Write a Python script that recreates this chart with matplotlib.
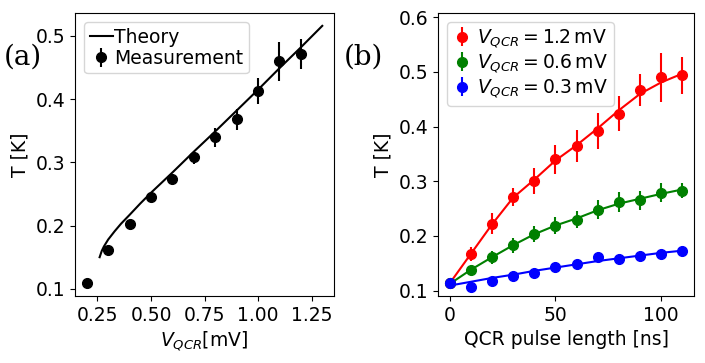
import numpy as np
import matplotlib
matplotlib.use("Agg")
import matplotlib.pyplot as plt

plt.rcParams['font.size'] = 13.5

# panel (a): temperature vs QCR voltage
v_meas = [0.2, 0.3, 0.4, 0.5, 0.6, 0.7, 0.8, 0.9, 1.0, 1.1, 1.2]
t_meas = [0.109, 0.161, 0.203, 0.246, 0.273, 0.308, 0.340, 0.368, 0.413, 0.460, 0.471]
t_meas_err = [0.0, 0.004, 0.005, 0.006, 0.007, 0.010, 0.015, 0.017, 0.021, 0.031, 0.024]

v_theory = [0.26, 0.27, 0.28, 0.30, 0.33, 0.36, 0.40, 0.45, 0.50, 0.60,
            0.70, 0.80, 0.90, 1.00, 1.10, 1.20, 1.30]
t_theory = [0.150, 0.160, 0.167, 0.178, 0.191, 0.203, 0.217, 0.235, 0.252, 0.284,
            0.317, 0.349, 0.382, 0.415, 0.449, 0.482, 0.516]

# panel (b): temperature vs pulse length
pulse = [0, 10, 20, 30, 40, 50, 60, 70, 80, 90, 100, 110]
t_12 = [0.113, 0.167, 0.222, 0.271, 0.300, 0.340, 0.364, 0.392, 0.424, 0.467, 0.490, 0.494]
e_12 = [0.0, 0.013, 0.019, 0.017, 0.024, 0.026, 0.029, 0.033, 0.032, 0.030, 0.045, 0.034]
fit_12 = [0.113, 0.167, 0.221, 0.270, 0.303, 0.338, 0.366, 0.397, 0.430, 0.460, 0.481, 0.497]
t_06 = [0.113, 0.137, 0.161, 0.183, 0.204, 0.219, 0.230, 0.248, 0.262, 0.265, 0.279, 0.283]
e_06 = [0.0, 0.005, 0.012, 0.014, 0.015, 0.016, 0.015, 0.017, 0.019, 0.017, 0.017, 0.013]
fit_06 = [0.112, 0.138, 0.161, 0.183, 0.203, 0.219, 0.232, 0.247, 0.259, 0.268, 0.277, 0.285]
t_03 = [0.113, 0.107, 0.118, 0.126, 0.132, 0.143, 0.149, 0.162, 0.158, 0.164, 0.166, 0.172]
e_03 = [0.0, 0.003, 0.003, 0.003, 0.004, 0.004, 0.004, 0.006, 0.004, 0.004, 0.004, 0.004]
fit_03 = [0.109, 0.116, 0.123, 0.129, 0.136, 0.142, 0.148, 0.154, 0.159, 0.164, 0.169, 0.173]

fig = plt.figure(figsize=(7.05, 3.63), dpi=100)
ax1 = fig.add_axes([0.1064, 0.1846, 0.3674, 0.7796])
ax2 = fig.add_axes([0.6213, 0.1846, 0.3631, 0.7796])

ax1.plot(v_theory, t_theory, color='black', lw=1.5, label='Theory')
ax1.errorbar(v_meas, t_meas, yerr=t_meas_err, fmt='o', color='black',
             ms=7, elinewidth=1.5, label='Measurement')
ax1.set_xlabel(r'$V_{QCR}$[mV]')
ax1.set_ylabel('T [K]')
ax1.set_xticks([0.25, 0.5, 0.75, 1.0, 1.25])
ax1.set_yticks([0.1, 0.2, 0.3, 0.4, 0.5])
ax1.legend(loc='upper left', handlelength=1.2, handletextpad=0.1,
           labelspacing=0.1, borderpad=0.3)

series = [(t_12, e_12, fit_12, 'red', '1.2'),
          (t_06, e_06, fit_06, 'green', '0.6'),
          (t_03, e_03, fit_03, 'blue', '0.3')]
for t, e, fit, c, v in series:
    ax2.plot(pulse, fit, color=c, lw=1.5)
    ax2.errorbar(pulse, t, yerr=e, fmt='o', color=c, ms=7, elinewidth=1.5,
                 label=r'$V_{QCR} = %s\,\mathrm{mV}$' % v)
ax2.set_xlabel('QCR pulse length [ns]')
ax2.set_ylabel('T [K]')
ax2.set_ylim(0.09, 0.608)
ax2.set_xticks([0, 50, 100])
ax2.set_yticks([0.1, 0.2, 0.3, 0.4, 0.5, 0.6])
ax2.legend(loc='upper left', handlelength=1.0, handletextpad=0.3,
           labelspacing=0.15, borderpad=0.3)

fig.text(0.005, 0.822, '(a)', family='DejaVu Serif', fontsize=20, va='baseline')
fig.text(0.488, 0.822, '(b)', family='DejaVu Serif', fontsize=20, va='baseline')

fig.savefig('out.png', dpi=100)
